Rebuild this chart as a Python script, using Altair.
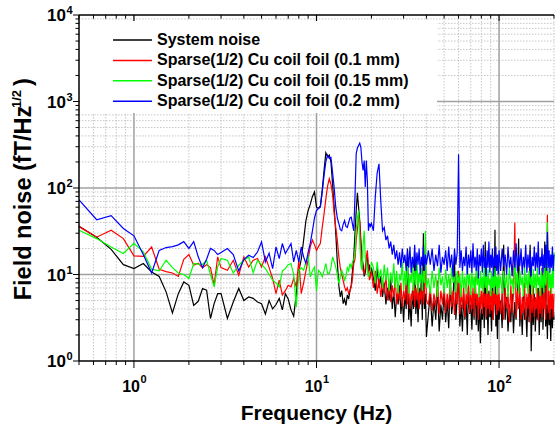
import altair as alt
import pandas as pd

# ---------------- data ----------------
freq = [
    0.5, 0.625, 0.75, 0.875, 1.0, 1.125, 1.25, 1.375, 1.5, 1.625, 1.75, 1.875,
    2.0, 2.125, 2.25, 2.375, 2.5, 2.625, 2.75, 2.875, 3.0,
    3.25, 3.5, 3.75, 4.0, 4.25, 4.5, 4.75, 5.0, 5.25, 5.5, 5.75, 6.0, 6.25, 6.5,
    6.75, 7.0, 7.25, 7.5, 7.75, 8.0, 8.25, 8.5, 8.75, 9.0, 9.25, 9.5, 9.75, 10.0,
    10.25, 10.5, 10.75, 11.0, 11.25, 11.5, 11.75, 12.0, 12.25, 12.5, 12.75, 13.0,
    13.25, 13.5, 13.75, 14.0, 14.25, 14.5, 14.75, 15.0, 15.25, 15.5, 15.75, 16.0,
    16.25, 16.5, 16.75, 17.0, 17.25, 17.5, 17.75, 18.0, 18.25, 18.5, 18.75, 19.0,
    19.25, 19.5, 19.75, 20.0,
    20.5, 21, 21.5, 22, 22.5, 23, 23.5, 24, 24.5, 25, 25.5, 26, 26.5, 27, 27.5,
    28, 28.5, 29, 29.5, 30, 30.5, 31, 31.5, 32, 32.5, 33, 33.5, 34, 34.5, 35,
    35.5, 36, 36.5, 37, 37.5, 38, 38.5, 39, 39.5, 40,
    41, 42, 43, 44, 45, 46, 47, 48, 49, 50, 51, 52, 53, 54, 55, 56, 57, 58, 59, 60,
    61, 62, 63, 64, 65, 66, 67, 68, 69, 70, 71, 72, 73, 74, 75, 76, 77, 78, 79, 80,
    81, 82, 83, 84, 85, 86, 87, 88, 89, 90, 91, 92, 93, 94, 95, 96, 97, 98, 99, 100,
    102, 104, 106, 108, 110, 112, 114, 116, 118, 120, 122, 124, 126, 128, 130,
    132, 134, 136, 138, 140, 142, 144, 146, 148, 150, 152, 154, 156, 158, 160,
    162, 164, 166, 168, 170, 172, 174, 176, 178, 180, 182, 184, 186, 188, 190,
    192, 194, 196, 198, 200,
]

system_noise = [
    36, 27, 19.5, 13, 11.7, 13.4, 10.7, 9.5, 6.3, 3.6, 6, 8.2, 7.5, 4.4, 4.9, 6.9, 6.6, 3.1, 4.6, 6, 6,
    3.1, 4.8, 6.9, 5.0, 5.5, 5.3, 4.8, 4.6, 3.5, 5.0, 4.0, 4.5, 5.3, 3.9, 6.0, 5.2, 3.9, 3.3, 6.0, 11,
    15, 25, 42, 55, 65, 80, 90, 60,
    58, 62, 95, 160, 255, 230, 240, 200, 110, 60, 30, 14, 7.5, 5.5, 6.5, 4.6, 5.2, 4.4, 5.8, 5.2,
    6.5, 7.5, 11, 16, 30, 55, 88, 60, 42, 25, 16, 13, 9.5, 10.5, 14, 16, 11, 13, 10, 12,
    9, 6.5, 12, 7, 9.5, 5.5, 8, 4.5, 7, 5, 9, 4, 6.5, 3.2, 6, 4.5, 7.5, 3.5, 5.5, 2.8,
    6, 4, 20, 3, 5, 2.5, 6.5, 4, 18, 3.5, 6, 2.8, 7, 4.5, 9, 3, 30, 4, 6, 1.9,
    3.5, 6, 2.5, 5, 3, 7, 2.2, 4.5, 3, 6.5, 2.8, 5, 2.4, 8, 3.5, 5, 16, 3, 5.5, 9,
    2.5, 4.5, 2.2, 6, 3, 5, 2, 7, 3.5, 4.5, 2.3, 6, 3, 9, 2.6, 4.8, 2.2, 5.5, 1.6, 4,
    3, 6, 2.4, 24, 3, 5, 2, 6.5, 3.2, 4.5, 2.2, 7, 3, 5, 33, 2.5, 4.2, 1.8, 5.5, 3,
    5, 2.4, 22, 3, 5.5, 2.2, 4.5, 2.8, 6, 2.1, 4.8, 3, 5.5, 26, 2.5,
    4.5, 2, 6, 3, 4.2, 1.9, 5.5, 2.8, 22, 1.3, 4.8, 2.6, 6, 2.2, 4.5,
    3, 7, 2, 5, 2.8, 12, 2.3, 5, 24, 2.5, 4.5, 1.8, 6, 2.6, 4,
    1.7, 5.5, 2.4, 4.4, 3,
]

foil_01 = [
    36, 27, 32.5, 26, 16.4, 16.2, 20.8, 11.5, 10.8, 10.4, 9.5, 15, 17, 12.8, 13.5, 12, 13, 12, 7.5, 16, 12,
    11.2, 14.6, 9.8, 16, 12.2, 14.6, 15.3, 12.2, 16, 12, 9, 6, 8.6, 5.8, 6.5, 7.5, 7.2, 9, 7.2, 14.6,
    6, 8, 11, 15, 21, 25, 22, 19,
    21, 23, 35, 50, 75, 105, 128, 110, 85, 50, 35, 25, 16, 12, 10, 8.5, 7.2, 6.5, 7, 6,
    6.5, 7.2, 9, 13.4, 15, 25, 33, 46, 40, 20, 13.4, 11, 10.3, 12, 16, 19, 12, 8.6, 9.5, 11,
    7, 11, 6, 9, 5.5, 8.5, 6, 10, 5, 8, 4.8, 7.5, 5.5, 9, 4.5, 7, 5, 8, 4.2, 6.5,
    5, 9, 4.5, 7, 4, 6, 5, 8.5, 4.2, 7, 5, 10, 4, 6.5, 5, 8, 4.5, 6, 22, 5,
    4.5, 7, 3.8, 6, 4.2, 8.5, 3.5, 6.5, 4.5, 7.5, 3.6, 6, 4, 9, 4.2, 6.5, 3.4, 7, 4.5, 11,
    3.5, 6.5, 4, 7.5, 3.2, 6, 4.5, 8, 3.6, 6.5, 4, 7, 3.3, 9.5, 4.4, 6, 3, 7, 4, 6.5,
    3.5, 8, 4.2, 6, 3.2, 7.5, 4, 6, 3.5, 8.5, 3.8, 6.5, 3, 7, 4.5, 6, 3.4, 8, 3.8, 6,
    3.5, 6.5, 3, 7, 4, 6, 2.8, 7.5, 3.6, 6, 40, 3.2, 6.5, 4, 7,
    3, 5.5, 3.6, 8, 3, 6, 4, 7, 2.8, 6, 3.6, 7.5, 3.2, 5.5, 4,
    7, 2.9, 6.5, 3.5, 8, 3.2, 6, 4, 7, 3, 5.5, 49, 3.6, 6.5, 3,
    7, 4, 6, 3.2, 6,
]

foil_015 = [
    32.5, 26, 20.8, 17.5, 23, 18.3, 11.5, 11, 14.6, 12, 10.4, 10, 9, 13.4, 13.2, 13.1, 14.6, 10, 7.2, 12.2, 15.3,
    14.6, 10.4, 12.8, 14.6, 16, 10.5, 14.6, 13, 11.7, 10, 8.6, 8, 7.2, 11, 11.7, 13, 13.4, 10, 4.2, 11,
    12, 11.2, 14, 16, 9.4, 11, 12.2, 6.5,
    11.2, 10.5, 9.4, 11, 13.4, 10.3, 10.3, 12, 16, 14, 12.2, 10, 7.9, 9.5, 11.2, 10, 8.6, 9.5, 12, 11,
    13.4, 12, 14, 15, 18, 32, 45, 55, 25, 13, 11.2, 22, 32, 16, 13.4, 11, 9.4, 10.5, 11.2, 14,
    12, 8, 14, 9, 11.5, 7, 13, 8.5, 12, 6.5, 10.5, 8, 13.5, 7, 11, 6, 10, 8.5, 14, 6.5,
    11, 7.5, 12.5, 6, 10, 8, 13, 6.5, 11, 7.5, 15, 6.2, 10.5, 8, 12, 6.5, 11, 8, 32, 7,
    9, 6, 11, 7, 10, 5.5, 12, 7.5, 9.5, 6, 11.5, 7, 10, 5.8, 12, 8, 9.5, 6.2, 11, 8,
    10, 5.5, 11, 7, 9.5, 6, 12.5, 7.5, 10, 5.8, 11, 7, 9.5, 6, 12, 7.5, 10, 5.5, 11, 7,
    9.5, 6.2, 14, 7, 10, 6, 11.5, 7.5, 9, 5.6, 11, 7, 10.5, 6, 12, 7.2, 9.5, 5.8, 11, 7,
    9.5, 6, 11, 7, 10, 5.5, 12, 7.5, 9, 6, 16, 7, 10.5, 6, 11,
    7.5, 9.5, 5.6, 12, 7, 10, 6, 11, 7.5, 9.5, 5.8, 11.5, 7, 10, 6,
    12, 7.5, 9.5, 5.6, 11, 7, 10, 6.2, 12, 7.5, 9, 40, 6.5, 11, 7,
    10, 6, 12, 7, 18,
]

foil_02 = [
    73, 43, 48, 34, 28, 17, 10.4, 19, 20.5, 21, 22, 24, 20, 24, 16, 12, 15, 20, 19, 17, 18,
    20, 17, 11, 14.9, 16.7, 15.7, 18.2, 23.8, 14, 17.6, 11.7, 20.8, 15.3, 22.8, 17.5, 20, 22.8, 14, 19, 14,
    20.8, 16, 13.4, 18, 23, 32, 45, 55,
    58, 60, 90, 140, 200, 240, 220, 225, 150, 100, 60, 45, 39, 33, 32, 38, 42, 36, 35, 40,
    45, 46, 38, 32, 80, 250, 290, 310, 330, 296, 200, 160, 208, 103, 208, 120, 32, 39, 36, 39,
    32, 80, 150, 190, 70, 32, 35, 25, 28, 20, 24, 17, 22, 15, 19, 13, 18, 12, 20, 13.5,
    17, 11, 19, 12, 21, 10.5, 16, 12, 22, 11, 18, 13, 20, 10, 16, 12.5, 21, 11, 17, 13,
    19, 13, 20, 11, 17, 12.5, 22, 10.5, 16, 13, 19, 11, 21, 12, 17, 9.5, 20, 13, 18, 245,
    12, 19, 11, 16, 12.5, 21, 10, 17, 12, 19, 10.5, 23, 12, 16, 11, 20, 9, 17, 12.5, 20,
    10.5, 22, 12, 16, 9.5, 19, 12, 24, 10.5, 17, 12, 20, 9.5, 16, 12.5, 21, 11, 17, 10, 19,
    11, 20, 12.5, 17, 10, 21, 12, 16, 9.5, 19, 12, 23, 11, 17, 12.5,
    20, 10, 16, 12, 22, 10.5, 17, 12, 19, 9.5, 16, 12.5, 21, 11, 18,
    12, 24, 10, 16, 12.5, 20, 10.5, 17, 12, 22, 11, 31, 12, 19, 10.5,
    17, 12, 21, 11, 17,
]

series_names = [
    "System noise",
    "Sparse(1/2) Cu coil foil (0.1 mm)",
    "Sparse(1/2) Cu coil foil (0.15 mm)",
    "Sparse(1/2) Cu coil foil (0.2 mm)",
]
series_values = [system_noise, foil_01, foil_015, foil_02]
series_colors = ["#000000", "#ff0000", "#00ff00", "#0000ff"]

x_ticks = [0.5, 0.6, 0.7, 0.8, 0.9, 1, 2, 3, 4, 5, 6, 7, 8, 9, 10,
           20, 30, 40, 50, 60, 70, 80, 90, 100, 200]
y_ticks = [1, 2, 3, 4, 5, 6, 7, 8, 9, 10, 20, 30, 40, 50, 60, 70, 80, 90,
           100, 200, 300, 400, 500, 600, 700, 800, 900,
           1000, 2000, 3000, 4000, 5000, 6000, 7000, 8000, 9000, 10000]
x_decades = [1, 10, 100]
x_exps = ["0", "1", "2"]
y_decades = [1, 10, 100, 1000, 10000]
y_exps = ["0", "1", "2", "3", "4"]

# ---------------- style ----------------
FONT = "Liberation Sans"
W, H = 475, 346
MAJOR_GRID = "#a0a0a0"
MINOR_GRID = "#c6c6c6"

x_scale = alt.Scale(type="log", domain=[0.5, 200], nice=False)
y_scale = alt.Scale(type="log", domain=[1, 10000], nice=False)


def xq(field="t"):
    return alt.X(f"{field}:Q", scale=x_scale, axis=None)


def yq(field="t"):
    return alt.Y(f"{field}:Q", scale=y_scale, axis=None)


one = pd.DataFrame({"a": [0]})
layers = []

# grid
x_minor_grid = pd.DataFrame({"t": [v for v in x_ticks if v not in x_decades and v != 0.5]})
y_minor_grid = pd.DataFrame({"t": [v for v in y_ticks if v not in y_decades]})
x_major_grid = pd.DataFrame({"t": x_decades})
y_major_grid = pd.DataFrame({"t": [v for v in y_decades if v not in (1, 10000)]})

layers.append(alt.Chart(x_minor_grid).mark_rule(color=MINOR_GRID, strokeWidth=1, strokeDash=[1.5, 1.5]).encode(
    x=xq(), y=alt.value(0), y2=alt.value(H)))
layers.append(alt.Chart(y_minor_grid).mark_rule(color=MINOR_GRID, strokeWidth=1, strokeDash=[1.5, 1.5]).encode(
    y=yq(), x=alt.value(0), x2=alt.value(W)))
layers.append(alt.Chart(x_major_grid).mark_rule(color=MAJOR_GRID, strokeWidth=1.5).encode(
    x=xq(), y=alt.value(0), y2=alt.value(H)))
layers.append(alt.Chart(y_major_grid).mark_rule(color=MAJOR_GRID, strokeWidth=1.5).encode(
    y=yq(), x=alt.value(0), x2=alt.value(W)))

# data lines
for name, vals, col in zip(series_names, series_values, series_colors):
    df = pd.DataFrame({"f": freq, "v": vals})
    layers.append(alt.Chart(df).mark_line(color=col, strokeWidth=1.2).encode(x=xq("f"), y=yq("v")))

# legend box and entries
layers.append(alt.Chart(one).mark_rect(color="white").encode(
    x=alt.value(1), x2=alt.value(358), y=alt.value(6), y2=alt.value(98)))
row0, row_step = 25, 20.4
for i, (name, col) in enumerate(zip(series_names, series_colors)):
    yy = row0 + row_step * i
    layers.append(alt.Chart(one).mark_rule(color=col, strokeWidth=1.5).encode(
        x=alt.value(34), x2=alt.value(73), y=alt.value(yy)))
    layers.append(alt.Chart(one).mark_text(
        text=name, align="left", baseline="middle", font=FONT, fontSize=16,
        fontWeight="bold", color="black").encode(x=alt.value(78), y=alt.value(yy)))

# frame lines
for enc in (
    dict(x=alt.value(0), x2=alt.value(W), y=alt.value(0)),
    dict(x=alt.value(0), x2=alt.value(W), y=alt.value(H)),
    dict(x=alt.value(0), y=alt.value(0), y2=alt.value(H)),
):
    layers.append(alt.Chart(one).mark_rule(color="black", strokeWidth=1.5).encode(**enc))

# ticks
x_major_t = pd.DataFrame({"t": x_decades})
x_minor_t = pd.DataFrame({"t": [v for v in x_ticks if v not in x_decades]})
y_major_t = pd.DataFrame({"t": y_decades})
y_minor_t = pd.DataFrame({"t": [v for v in y_ticks if v not in y_decades]})
tick = dict(color="black", strokeWidth=1)
layers += [
    # bottom, outward
    alt.Chart(x_major_t).mark_rule(**tick).encode(x=xq(), y=alt.value(H), y2=alt.value(H + 7)),
    alt.Chart(x_minor_t).mark_rule(**tick).encode(x=xq(), y=alt.value(H), y2=alt.value(H + 4)),
    # top, inward
    alt.Chart(x_major_t).mark_rule(**tick).encode(x=xq(), y=alt.value(0), y2=alt.value(6)),
    alt.Chart(x_minor_t).mark_rule(**tick).encode(x=xq(), y=alt.value(0), y2=alt.value(3.5)),
    # left, outward
    alt.Chart(y_major_t).mark_rule(**tick).encode(y=yq(), x=alt.value(-6), x2=alt.value(0)),
    alt.Chart(y_minor_t).mark_rule(**tick).encode(y=yq(), x=alt.value(-3.5), x2=alt.value(0)),
]

# tick labels (10 with superscript exponent)
xl = pd.DataFrame({"t": x_decades, "e": x_exps})
layers.append(alt.Chart(xl).mark_text(
    text="10", align="right", baseline="alphabetic", font=FONT, fontSize=16,
    fontWeight="bold", dx=6).encode(x=xq(), y=alt.value(376.5)))
layers.append(alt.Chart(xl).mark_text(
    align="left", baseline="alphabetic", font=FONT, fontSize=11,
    fontWeight="bold", dx=6.5).encode(x=xq(), y=alt.value(368.3), text="e:N"))

yl = pd.DataFrame({"t": y_decades, "e": y_exps})
layers.append(alt.Chart(yl).mark_text(
    text="10", align="right", baseline="alphabetic", font=FONT, fontSize=17,
    fontWeight="bold", dy=6).encode(x=alt.value(-13), y=yq()))
layers.append(alt.Chart(yl).mark_text(
    align="left", baseline="alphabetic", font=FONT, fontSize=11,
    fontWeight="bold", dy=-1).encode(x=alt.value(-12.5), y=yq(), text="e:N"))

# axis titles
layers.append(alt.Chart(one).mark_text(
    text="Frequency (Hz)", align="center", baseline="alphabetic", font=FONT,
    fontSize=21, fontWeight="bold").encode(x=alt.value(W / 2), y=alt.value(405)))
layers.append(alt.Chart(one).mark_text(
    text="Field noise (fT/Hz", align="center", baseline="alphabetic", font=FONT,
    fontSize=23.5, fontWeight="bold", angle=270).encode(x=alt.value(-48), y=alt.value(188)))
layers.append(alt.Chart(one).mark_text(
    text="1/2", align="center", baseline="alphabetic", font=FONT,
    fontSize=13, fontWeight="bold", angle=270).encode(x=alt.value(-58), y=alt.value(84)))
layers.append(alt.Chart(one).mark_text(
    text=")", align="center", baseline="alphabetic", font=FONT,
    fontSize=23.5, fontWeight="bold", angle=270).encode(x=alt.value(-48), y=alt.value(67)))

chart = alt.layer(*layers).properties(
    width=W, height=H,
    padding={"left": 79, "top": 15, "right": 1, "bottom": 67},
    autosize=alt.AutoSizeParams(type="none"),
    background="white",
).configure_view(stroke=None)

chart.save("out.html", embed_options={"renderer": "svg", "actions": False})
